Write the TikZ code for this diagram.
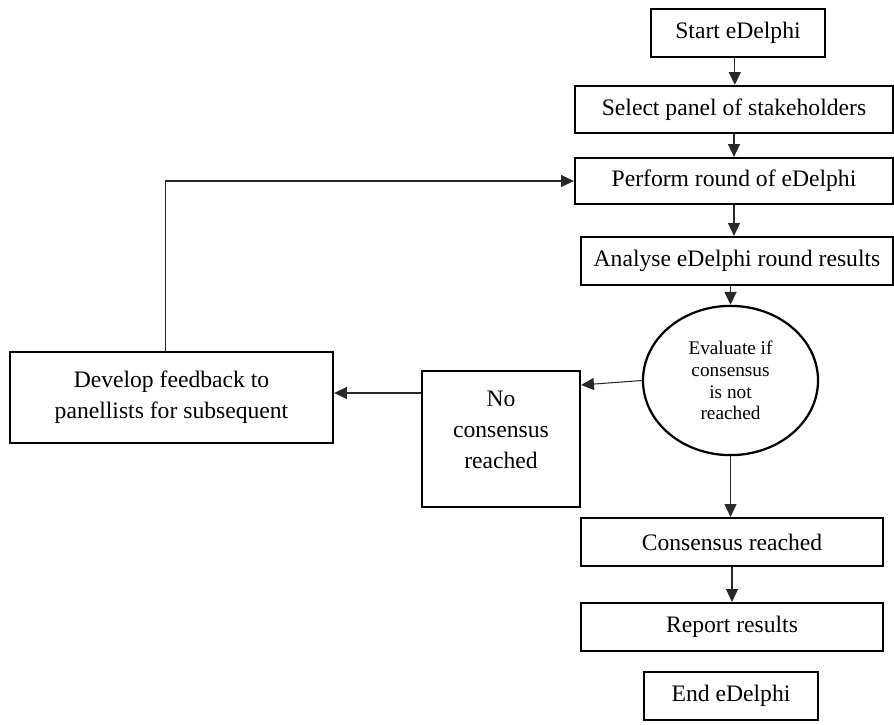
\documentclass[tikz,border=0pt]{standalone}
\usepackage{fontspec}
\setmainfont{Liberation Serif}
\usetikzlibrary{shapes.geometric,arrows.meta}

\begin{document}
\begin{tikzpicture}[x=0.025cm, y=-0.025cm,
        stepbox/.style={draw=black, line width=1.6pt, fill=white, align=center,
            inner sep=0pt, font=\fontsize{16.8}{22}\selectfont},
        evalnode/.style={draw=black, line width=1.6pt, ellipse, align=center,
            inner sep=0pt, minimum width=4.375cm, minimum height=3.73cm,
            font=\fontsize{13.7}{15.5}\selectfont},
        flowline/.style={draw=linecolor, line width=0.75pt,
            -{Triangle[length=0.32cm, width=0.3cm]}}]
            % Define the colors
            \definecolor{linecolor}{RGB}{40, 40, 40}

            % Fix the page size
            \useasboundingbox (0,0) rectangle (894,724);

            % Draw the main column
            \node[stepbox, minimum width=4.35cm, minimum height=1.2cm] (start) at (738,33) {Start eDelphi};
            \node[stepbox, minimum width=7.95cm, minimum height=1.175cm] (select) at (734,109.5) {Select panel of stakeholders};
            \node[stepbox, minimum width=7.95cm, minimum height=1.15cm] (perform) at (734,181) {Perform round of eDelphi};
            \node[stepbox, minimum width=7.8cm, minimum height=1.2cm] (analyse) at (737,261) {Analyse eDelphi round results};

            % Draw the evaluation ellipse
            \node[evalnode] (evaluate) at (730.5,380.5) {Evaluate if\\consensus\\is not\\reached};

            % Draw the no consensus branch
            \node[stepbox, minimum width=3.95cm, minimum height=3.4cm,
                label={[anchor=north, align=center, yshift=-0.4cm,
                    font=\fontsize{16.8}{22}\selectfont]north:No\\consensus\\reached}] (nocons) at (501,439) {};
            \node[stepbox, minimum width=8.075cm, minimum height=2.275cm] (feedback) at (171.5,397.5) {Develop feedback to\\panellists for subsequent};

            % Draw the consensus branch
            \node[stepbox, minimum width=7.55cm, minimum height=1.2cm] (consensus) at (732,542) {Consensus reached};
            \node[stepbox, minimum width=7.55cm, minimum height=1.2cm] (report) at (732,627) {Report results};
            \node[stepbox, minimum width=4.35cm, minimum height=1.2cm] (finish) at (731,696) {End eDelphi};

            % Draw the arrows
            \draw[flowline] ([xshift=-0.08cm]start.south) -- ([xshift=-0.08cm]start.south |- select.north);
            \draw[flowline] (select.south -| perform.north) -- (perform.north);
            \draw[flowline] (perform.south) -- (analyse.north -| perform.south);
            \draw[flowline] (analyse.south -| evaluate.north) -- (evaluate.north);
            \draw[flowline] (evaluate.west) -- (nocons.east |- 0,385);
            \draw[flowline] (nocons.west |- 0,393) -- (feedback.east |- 0,393);
            \draw[flowline] ([xshift=-0.16cm]feedback.north) |- (perform.west);
            \draw[flowline] (evaluate.south) -- (consensus.north -| evaluate.south);
            \draw[flowline] (consensus.south) -- (report.north);

        \end{tikzpicture}
\end{document}
